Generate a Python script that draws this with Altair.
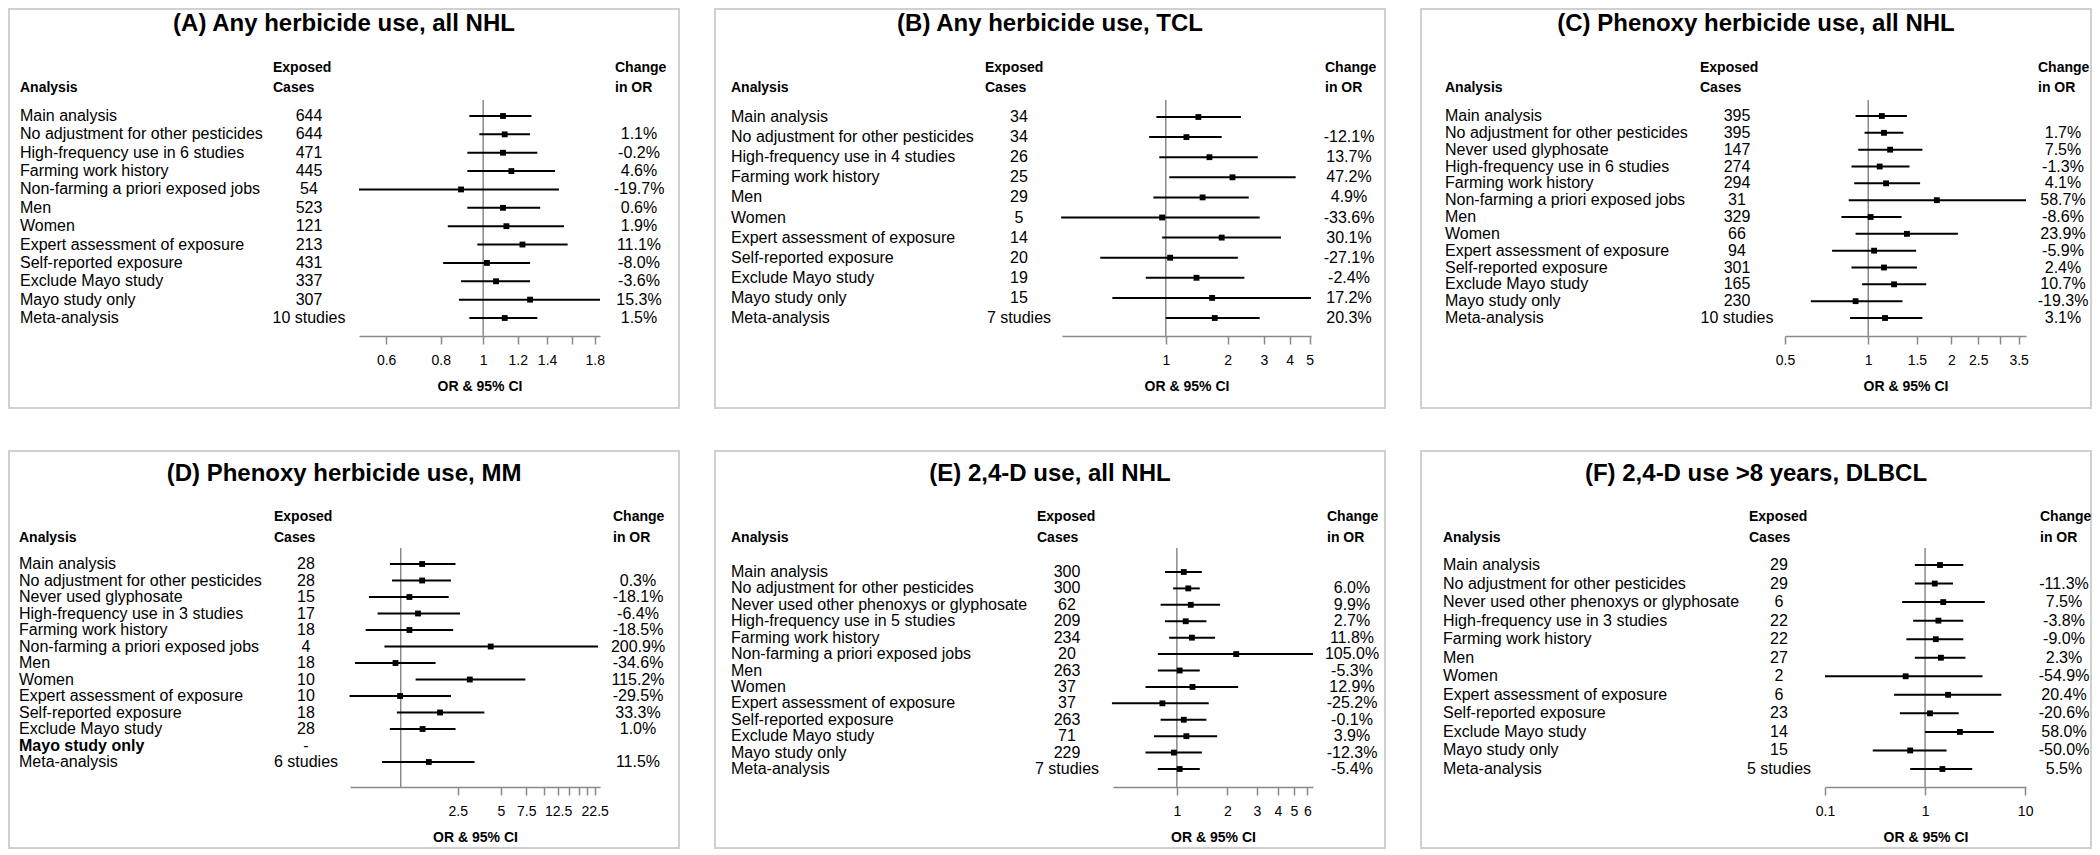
import altair as alt
import pandas as pd

FONT = "Liberation Sans"

HEAD_ANALYSIS = "Analysis"
HEAD_CASES = ["Exposed", "Cases"]
HEAD_CHANGE = ["Change", "in OR"]
AXIS_TITLE = "OR & 95% CI"
REF_OR = [1.0]

# ---------------- (A) ----------------
A_TITLE = "(A) Any herbicide use, all NHL"
A_LABELS = ["Main analysis", "No adjustment for other pesticides", "High-frequency use in 6 studies",
            "Farming work history", "Non-farming a priori exposed jobs", "Men", "Women",
            "Expert assessment of exposure", "Self-reported exposure", "Exclude Mayo study",
            "Mayo study only", "Meta-analysis"]
A_CASES = ["644", "644", "471", "445", "54", "523", "121", "213", "431", "337", "307", "10 studies"]
A_OR = [1.11, 1.12, 1.11, 1.16, 0.89, 1.11, 1.13, 1.23, 1.02, 1.07, 1.28, 1.12]
A_LO = [0.93, 0.98, 0.92, 0.92, 0.52, 0.92, 0.83, 0.97, 0.81, 0.89, 0.88, 0.93]
A_HI = [1.29, 1.28, 1.33, 1.46, 1.49, 1.35, 1.53, 1.56, 1.28, 1.28, 1.85, 1.33]
A_CHANGE = ["", "1.1%", "-0.2%", "4.6%", "-19.7%", "0.6%", "1.9%", "11.1%", "-8.0%", "-3.6%", "15.3%", "1.5%"]
A_TICKS = [0.6, 0.8, 1, 1.2, 1.4, 1.6, 1.8]
A_HIDDEN = [1.6]
A_DOMAIN = [0.52, 1.85]

# ---------------- (B) ----------------
B_TITLE = "(B) Any herbicide use, TCL"
B_LABELS = ["Main analysis", "No adjustment for other pesticides", "High-frequency use in 4 studies",
            "Farming work history", "Men", "Women", "Expert assessment of exposure",
            "Self-reported exposure", "Exclude Mayo study", "Mayo study only", "Meta-analysis"]
B_CASES = ["34", "34", "26", "25", "29", "5", "14", "20", "19", "15", "7 studies"]
B_OR = [1.44, 1.26, 1.63, 2.11, 1.51, 0.96, 1.87, 1.05, 1.41, 1.68, 1.73]
B_LO = [0.90, 0.83, 0.93, 1.04, 0.87, 0.31, 0.96, 0.48, 0.80, 0.55, 1.00]
B_HI = [2.32, 1.87, 2.80, 4.28, 2.53, 2.86, 3.63, 2.24, 2.41, 5.08, 2.86]
B_CHANGE = ["", "-12.1%", "13.7%", "47.2%", "4.9%", "-33.6%", "30.1%", "-27.1%", "-2.4%", "17.2%", "20.3%"]
B_TICKS = [1, 2, 3, 4, 5]
B_HIDDEN = []
B_DOMAIN = [0.313, 5.08]

# ---------------- (C) ----------------
C_TITLE = "(C) Phenoxy herbicide use, all NHL"
C_LABELS = ["Main analysis", "No adjustment for other pesticides", "Never used glyphosate",
            "High-frequency use in 6 studies", "Farming work history", "Non-farming a priori exposed jobs",
            "Men", "Women", "Expert assessment of exposure", "Self-reported exposure",
            "Exclude Mayo study", "Mayo study only", "Meta-analysis"]
C_CASES = ["395", "395", "147", "274", "294", "31", "329", "66", "94", "301", "165", "230", "10 studies"]
C_OR = [1.12, 1.14, 1.20, 1.10, 1.16, 1.77, 1.02, 1.38, 1.05, 1.14, 1.24, 0.90, 1.15]
C_LO = [0.90, 0.97, 0.92, 0.87, 0.89, 0.85, 0.80, 0.90, 0.74, 0.87, 0.95, 0.62, 0.86]
C_HI = [1.38, 1.34, 1.57, 1.41, 1.54, 3.72, 1.32, 2.11, 1.49, 1.50, 1.62, 1.33, 1.57]
C_CHANGE = ["", "1.7%", "7.5%", "-1.3%", "4.1%", "58.7%", "-8.6%", "23.9%", "-5.9%", "2.4%", "10.7%", "-19.3%", "3.1%"]
C_TICKS = [0.5, 1, 1.5, 2, 2.5, 3, 3.5]
C_HIDDEN = [3]
C_DOMAIN = [0.5, 3.72]

# ---------------- (D) ----------------
D_TITLE = "(D) Phenoxy herbicide use, MM"
D_LABELS = ["Main analysis", "No adjustment for other pesticides", "Never used glyphosate",
            "High-frequency use in 3 studies", "Farming work history", "Non-farming a priori exposed jobs",
            "Men", "Women", "Expert assessment of exposure", "Self-reported exposure",
            "Exclude Mayo study", "Mayo study only", "Meta-analysis"]
D_CASES = ["28", "28", "15", "17", "18", "4", "18", "10", "10", "18", "28", "-", "6 studies"]
D_OR = [1.41, 1.41, 1.15, 1.32, 1.15, 4.24, 0.92, 3.03, 0.99, 1.88, 1.42, None, 1.57]
D_LO = [0.84, 0.87, 0.60, 0.69, 0.57, 0.77, 0.48, 1.27, 0.44, 0.94, 0.84, None, 0.74]
D_HI = [2.41, 2.24, 2.16, 2.59, 2.32, 23.7, 1.75, 7.39, 2.24, 3.83, 2.41, None, 3.27]
D_CHANGE = ["", "0.3%", "-18.1%", "-6.4%", "-18.5%", "200.9%", "-34.6%", "115.2%", "-29.5%", "33.3%", "1.0%", "", "11.5%"]
D_TICKS = [2.5, 5, 7.5, 10, 12.5, 15, 17.5, 20, 22.5]
D_HIDDEN = [10, 15, 17.5, 20]
D_DOMAIN = [0.443, 24.5]
D_BOLD = ["Mayo study only"]

# ---------------- (E) ----------------
E_TITLE = "(E) 2,4-D use, all NHL"
E_LABELS = ["Main analysis", "No adjustment for other pesticides", "Never used other phenoxys or glyphosate",
            "High-frequency use in 5 studies", "Farming work history", "Non-farming a priori exposed jobs",
            "Men", "Women", "Expert assessment of exposure", "Self-reported exposure",
            "Exclude Mayo study", "Mayo study only", "Meta-analysis"]
E_CASES = ["300", "300", "62", "209", "234", "20", "263", "37", "37", "263", "71", "229", "7 studies"]
E_OR = [1.10, 1.17, 1.21, 1.13, 1.23, 2.26, 1.04, 1.24, 0.82, 1.10, 1.14, 0.96, 1.04]
E_LO = [0.85, 0.95, 0.80, 0.85, 0.90, 0.77, 0.77, 0.65, 0.41, 0.80, 0.73, 0.65, 0.77]
E_HI = [1.41, 1.37, 1.81, 1.50, 1.69, 6.49, 1.37, 2.32, 1.55, 1.50, 1.74, 1.41, 1.37]
E_CHANGE = ["", "6.0%", "9.9%", "2.7%", "11.8%", "105.0%", "-5.3%", "12.9%", "-25.2%", "-0.1%", "3.9%", "-12.3%", "-5.4%"]
E_TICKS = [1, 2, 3, 4, 5, 6]
E_HIDDEN = []
E_DOMAIN = [0.416, 6.49]

# ---------------- (F) ----------------
F_TITLE = "(F) 2,4-D use >8 years, DLBCL"
F_LABELS = ["Main analysis", "No adjustment for other pesticides", "Never used other phenoxys or glyphosate",
            "High-frequency use in 3 studies", "Farming work history", "Men", "Women",
            "Expert assessment of exposure", "Self-reported exposure", "Exclude Mayo study",
            "Mayo study only", "Meta-analysis"]
F_CASES = ["29", "29", "6", "22", "22", "27", "2", "6", "23", "14", "15", "5 studies"]
F_OR = [1.41, 1.25, 1.52, 1.36, 1.28, 1.44, 0.64, 1.70, 1.12, 2.23, 0.71, 1.49]
F_LO = [0.79, 0.79, 0.59, 0.76, 0.65, 0.79, 0.10, 0.49, 0.56, 1.00, 0.30, 0.71]
F_HI = [2.41, 1.90, 3.95, 2.41, 2.41, 2.53, 3.75, 5.79, 2.17, 4.86, 1.64, 2.96]
F_CHANGE = ["", "-11.3%", "7.5%", "-3.8%", "-9.0%", "2.3%", "-54.9%", "20.4%", "-20.6%", "58.0%", "-50.0%", "5.5%"]
F_TICKS = [0.1, 1, 10]
F_HIDDEN = []
F_DOMAIN = [0.1, 10.2]

# ---------------- layout (pixels) ----------------
W = 670
TOP_ROW = dict(box=399, title_y=15, hdr1=59, hdr2=79, ref_top=91, axis_y=327)
BOT_ROW = dict(box=397, title_y=23, hdr1=66, hdr2=87, ref_top=97, axis_y=336)
POS = {
    "A": dict(lab=11, exp=264, cases=300, chg_hdr=606, chg=630, xr=[350, 591], rows=[107, 309]),
    "B": dict(lab=16, exp=270, cases=304, chg_hdr=610, chg=634, xr=[347, 596], rows=[108, 309]),
    "C": dict(lab=24, exp=279, cases=316, chg_hdr=617, chg=642, xr=[364, 605], rows=[107, 309]),
    "D": dict(lab=10, exp=265, cases=297, chg_hdr=604, chg=629, xr=[341, 591], rows=[113, 311]),
    "E": dict(lab=16, exp=322, cases=352, chg_hdr=612, chg=637, xr=[398, 598], rows=[121, 318]),
    "F": dict(lab=22, exp=328, cases=358, chg_hdr=619, chg=643, xr=[404, 605], rows=[114, 318]),
}
ROW_FONT = 16
HEAD_FONT = 14
TITLE_FONT = 24
FRAME = "#d0d0d0"
GREY = "#8a8a8a"


def panel(title, labels, cases, ors, los, his, changes, ticks, hidden, domain, P, R, bold=()):
    n = len(labels)
    df = pd.DataFrame({
        "row": list(range(n)), "label": labels, "cases": cases, "or": ors, "lo": los, "hi": his,
        "change": changes, "bold": [l in bold for l in labels],
    })
    xscale = alt.Scale(type="log", domain=domain, range=P["xr"])
    axis_kw = dict(
        values=ticks, format="~g", title=AXIS_TITLE,
        grid=False, tickSize=8, labelPadding=9, titlePadding=12,
        domainColor=GREY, tickColor=GREY, domainWidth=1.5, tickWidth=1.5,
        labelColor="black", titleColor="black", labelFont=FONT, titleFont=FONT,
        labelFontSize=14, titleFontSize=14, titleFontWeight="bold",
        labelFlush=False, labelOverlap=False,
    )
    if hidden:
        axis_kw["labelExpr"] = "indexof([%s], datum.value) >= 0 ? '' : datum.label" % ",".join(str(h) for h in hidden)
    xaxis = alt.Axis(**axis_kw)

    # row index -> pixel: first row at rows[0], last row at rows[1], view height = axis_y
    r0, r1 = P["rows"]
    hv = R["axis_y"]
    k = (r1 - r0) / (n - 1)
    ydom = [-r0 / k, (hv - r0) / k]
    yenc = alt.Y("row:Q", scale=alt.Scale(domain=ydom, reverse=True, zero=False, nice=False), axis=None)

    base = alt.Chart(df)
    valid = base.transform_filter("isValid(datum.or)")
    one = alt.Chart(pd.DataFrame({"k": [0]}))

    frame = one.mark_rect(fillOpacity=0, stroke=FRAME, strokeWidth=2).encode(
        x=alt.value(0), x2=alt.value(W), y=alt.value(0), y2=alt.value(R["box"]))
    ref = alt.Chart(pd.DataFrame({"ref": REF_OR})).mark_rule(color=GREY, strokeWidth=1.5).encode(
        x=alt.X("ref:Q", scale=xscale, axis=xaxis),
        y=alt.value(R["ref_top"]), y2=alt.value(R["axis_y"]),
    )
    ci = valid.mark_rule(color="black", strokeWidth=2).encode(
        x=alt.X("lo:Q", scale=xscale, axis=xaxis), x2="hi:Q", y=yenc)
    pt = valid.mark_square(size=34, color="black", opacity=1).encode(
        x=alt.X("or:Q", scale=xscale, axis=xaxis), y=yenc)

    txt = dict(baseline="middle", font=FONT, fontSize=ROW_FONT, color="black")
    lab_n = base.transform_filter("!datum.bold").mark_text(align="left", **txt).encode(
        x=alt.value(P["lab"]), y=yenc, text="label:N")
    lab_b = base.transform_filter("datum.bold").mark_text(align="left", fontWeight="bold", **txt).encode(
        x=alt.value(P["lab"]), y=yenc, text="label:N")
    cas = base.mark_text(align="center", **txt).encode(x=alt.value(P["cases"]), y=yenc, text="cases:N")
    chg = base.mark_text(align="center", **txt).encode(x=alt.value(P["chg"]), y=yenc, text="change:N")

    ttl = one.mark_text(baseline="middle", align="center", font=FONT, fontSize=TITLE_FONT,
                        fontWeight="bold", color="black").encode(
        x=alt.value(W / 2), y=alt.value(R["title_y"]), text=alt.value(title))
    htxt = dict(baseline="middle", font=FONT, fontSize=HEAD_FONT, fontWeight="bold", color="black", align="left")
    h1 = one.mark_text(**htxt).encode(x=alt.value(P["lab"]), y=alt.value(R["hdr2"]), text=alt.value(HEAD_ANALYSIS))
    h2 = one.mark_text(**htxt).encode(x=alt.value(P["exp"]), y=alt.value(R["hdr1"]), text=alt.value(HEAD_CASES[0]))
    h3 = one.mark_text(**htxt).encode(x=alt.value(P["exp"]), y=alt.value(R["hdr2"]), text=alt.value(HEAD_CASES[1]))
    h4 = one.mark_text(**htxt).encode(x=alt.value(P["chg_hdr"]), y=alt.value(R["hdr1"]), text=alt.value(HEAD_CHANGE[0]))
    h5 = one.mark_text(**htxt).encode(x=alt.value(P["chg_hdr"]), y=alt.value(R["hdr2"]), text=alt.value(HEAD_CHANGE[1]))

    layers = [frame, ref, ci, pt, lab_n, cas, chg, ttl, h1, h2, h3, h4, h5]
    if bold:
        layers.insert(5, lab_b)
    return alt.layer(*layers).properties(width=W, height=R["axis_y"])


pA = panel(A_TITLE, A_LABELS, A_CASES, A_OR, A_LO, A_HI, A_CHANGE, A_TICKS, A_HIDDEN, A_DOMAIN, POS["A"], TOP_ROW)
pB = panel(B_TITLE, B_LABELS, B_CASES, B_OR, B_LO, B_HI, B_CHANGE, B_TICKS, B_HIDDEN, B_DOMAIN, POS["B"], TOP_ROW)
pC = panel(C_TITLE, C_LABELS, C_CASES, C_OR, C_LO, C_HI, C_CHANGE, C_TICKS, C_HIDDEN, C_DOMAIN, POS["C"], TOP_ROW)
pD = panel(D_TITLE, D_LABELS, D_CASES, D_OR, D_LO, D_HI, D_CHANGE, D_TICKS, D_HIDDEN, D_DOMAIN, POS["D"], BOT_ROW, D_BOLD)
pE = panel(E_TITLE, E_LABELS, E_CASES, E_OR, E_LO, E_HI, E_CHANGE, E_TICKS, E_HIDDEN, E_DOMAIN, POS["E"], BOT_ROW)
pF = panel(F_TITLE, F_LABELS, F_CASES, F_OR, F_LO, F_HI, F_CHANGE, F_TICKS, F_HIDDEN, F_DOMAIN, POS["F"], BOT_ROW)

row1 = alt.hconcat(pA, pB, pC, spacing=34)
row2 = alt.hconcat(pD, pE, pF, spacing=34)
chart = (
    alt.vconcat(row1, row2, spacing=41)
    .properties(padding=0)
    .configure(font=FONT, background="white")
    .configure_view(strokeOpacity=0)
)

chart.save("out.html", embed_options={"renderer": "svg", "actions": False})
